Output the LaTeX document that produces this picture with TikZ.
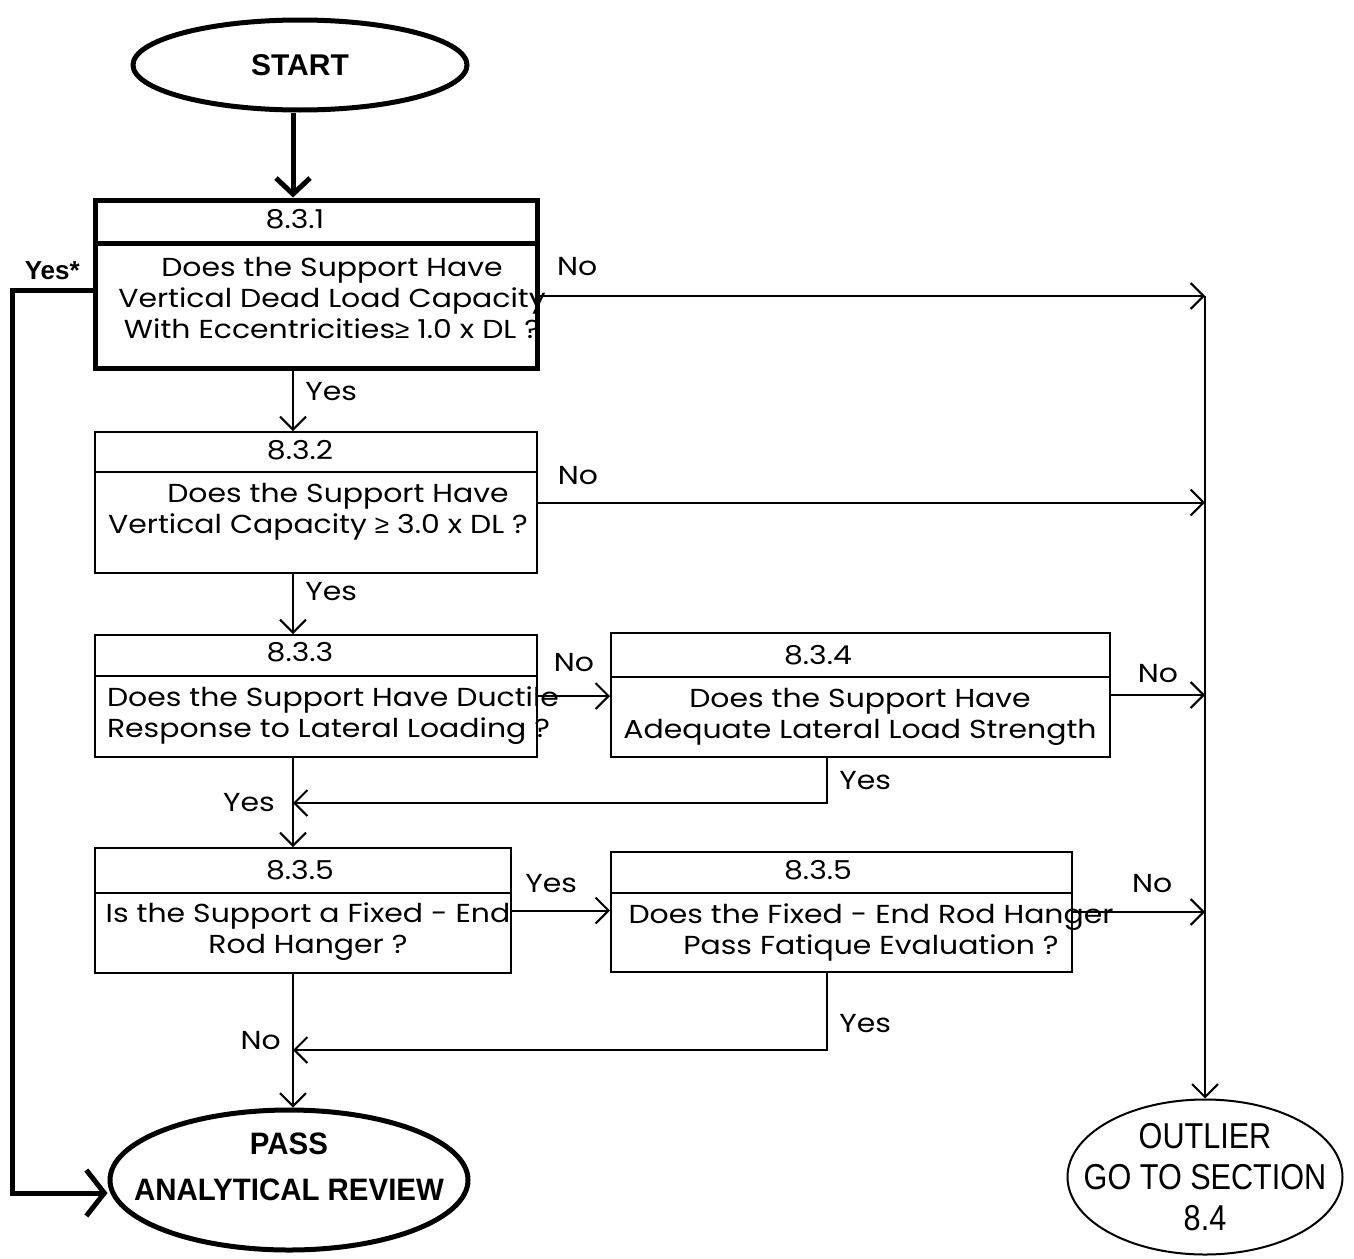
\documentclass[tikz,border=0pt]{standalone}
\usepackage{fontspec}
\setmainfont{Poppins}[FakeStretch=1.15]
\newfontfamily\arialfont{Liberation Sans}
\newfontfamily\passfont[FakeStretch=0.95]{Liberation Sans}
\newfontfamily\narrowfont[FakeStretch=0.85]{Liberation Sans}
\newcommand{\gesym}{{\arialfont ≥}}
\usetikzlibrary{shapes.geometric,arrows.meta}

\begin{document}
\begin{tikzpicture}[x=1pt,y=-1pt,line width=2pt,>={Straight Barb[length=13pt,width=26pt]},
    qbox/.style={draw,rectangle,inner sep=0pt},
    term/.style={draw,ellipse,inner xsep=-30pt,inner ysep=-10pt,align=center},
    qtext/.style={align=center,inner sep=0pt,font=\fontsize{26}{31}\selectfont},
    lbl/.style={font=\fontsize{26}{31}\selectfont}]
  \useasboundingbox (0,0) rectangle (1354,1258);
  \fill[white] (0,0) rectangle (1354,1258);

  \coordinate (col) at (293,0);
  \coordinate (bus) at (1205,0);
  \coordinate (loop) at (12,290);
  \coordinate (e1) at (537,296);
  \coordinate (s4) at (827,803);
  \coordinate (s5) at (827,1050);

  % terminals
  \node[term,line width=5pt,minimum width=334pt,minimum height=90pt,font=\arialfont\bfseries\fontsize{30}{36}\selectfont] at (300,65) (start) {START};
  \node[term,line width=5pt,minimum width=358pt,minimum height=140pt,text depth=26pt,font=\passfont\bfseries\fontsize{31}{46}\selectfont] at (289,1180) (pass) {PASS\\ANALYTICAL REVIEW};
  \node[term,minimum width=275pt,minimum height=155pt,font=\narrowfont\fontsize{36}{41}\selectfont] at (1205,1177) (outlier) {OUTLIER\\GO TO SECTION\\8.4};

  % question boxes
  \node[qbox,line width=5pt,minimum width=442pt,minimum height=168pt] at (316,284) (b1) {};
  \draw[line width=5pt] (b1.west |- 0,243) -- (b1.east |- 0,243);
  \node[qtext] at (295,219) (h1) {8.3.1};
  \node[qtext] at (332,298) (t1) {Does the Support Have\\Vertical Dead Load Capacity\\With Eccentricities\gesym\ 1.0 x DL ?};

  \node[qbox,minimum width=442pt,minimum height=141pt] at (316,502.5) (b2) {};
  \draw (b2.west |- 0,472) -- (b2.east |- 0,472);
  \node[qtext] at (300,450) (h2) {8.3.2};
  \node[qtext] at (318,512) (t2) {\hspace*{40pt}Does the Support Have\\Vertical Capacity \gesym\ 3.0 x DL ?};

  \node[qbox,minimum width=442pt,minimum height=122pt] at (316,696) (b3) {};
  \draw (b3.west |- 0,676) -- (b3.east |- 0,676);
  \node[qtext] at (300,652) (h3) {8.3.3};
  \node[qtext,align=left,anchor=west] at (106,716) (t3) {Does the Support Have Ductile\\Response to Lateral Loading ?};

  \node[qbox,minimum width=499pt,minimum height=124pt] at (860.5,695) (b4) {};
  \draw (b4.west |- 0,677) -- (b4.east |- 0,677);
  \node[qtext] at (818,655) (h4) {8.3.4};
  \node[qtext] at (860,717) (t4) {Does the Support Have\\Adequate Lateral Load Strength};

  \node[qbox,minimum width=416pt,minimum height=125pt] at (303,910.5) (b5) {};
  \draw (b5.west |- 0,893) -- (b5.east |- 0,893);
  \node[qtext] at (300,870) (h5) {8.3.5};
  \node[qtext] at (308,932) (t5) {Is the Support a Fixed - End\\Rod Hanger ?};

  \node[qbox,minimum width=461pt,minimum height=120pt] at (841.5,912) (b6) {};
  \draw (b6.west |- 0,893) -- (b6.east |- 0,893);
  \node[qtext] at (818,870) (h6) {8.3.5};
  \node[qtext] at (871,932) (t6) {Does the Fixed - End Rod Hanger\\Pass Fatique Evaluation ?};

  % main column
  \draw[line width=5pt,->,>={Straight Barb[length=16pt,width=34pt]}] (start.south -| col) -- (b1.north -| col);
  \draw[->] (b1.south -| col) -- node[pos=0.35,right=8pt,lbl] {Yes} (b2.north -| col);
  \draw[->] (b2.south -| col) -- node[pos=0.3,right=8pt,lbl] {Yes} (b3.north -| col);
  \draw[->] (b3.south -| col) -- node[left=14pt,lbl] {Yes} (b5.north -| col);
  \draw[->] (b5.south -| col) -- node[left=8pt,lbl] {No} (pass.north -| col);
  \draw[->] (b4.south -| s4) -- node[right=8pt,lbl] {Yes} (s4) -- (s4 -| col);
  \draw[->] (b6.south -| s5) -- node[pos=0.65,right=8pt,lbl] {Yes} (s5) -- (s5 -| col);

  % side branches
  \draw[->] (b3.east) -- node[above=20pt,lbl] {No} (b3.east -| b4.west);
  \draw[->] (b5.east) -- node[pos=0.4,above=13pt,lbl] {Yes} (b5.east -| b6.west);

  % outlier bus
  \draw[->] (e1) -- node[pos=0.06,above=16pt,lbl] {No} (e1 -| bus);
  \draw[->] (b2.east) -- node[pos=0.06,above=13pt,lbl] {No} (b2.east -| bus);
  \draw[->] (b4.east) -- node[above=8pt,lbl] {No} (b4.east -| bus);
  \draw[->] (b6.east) -- node[pos=0.6,above=15pt,lbl] {No} (b6.east -| bus);
  \draw[->] (e1 -| bus) -- (outlier.north);

  % yes* loop
  \draw[line width=5pt,->,>={Straight Barb[length=18pt,width=46pt]}] (b1.west |- loop) -- node[above=4pt,font=\arialfont\bfseries\fontsize{26}{31}\selectfont] {Yes*} (loop) |- (pass.west |- 0,1193);
\end{tikzpicture}
\end{document}
